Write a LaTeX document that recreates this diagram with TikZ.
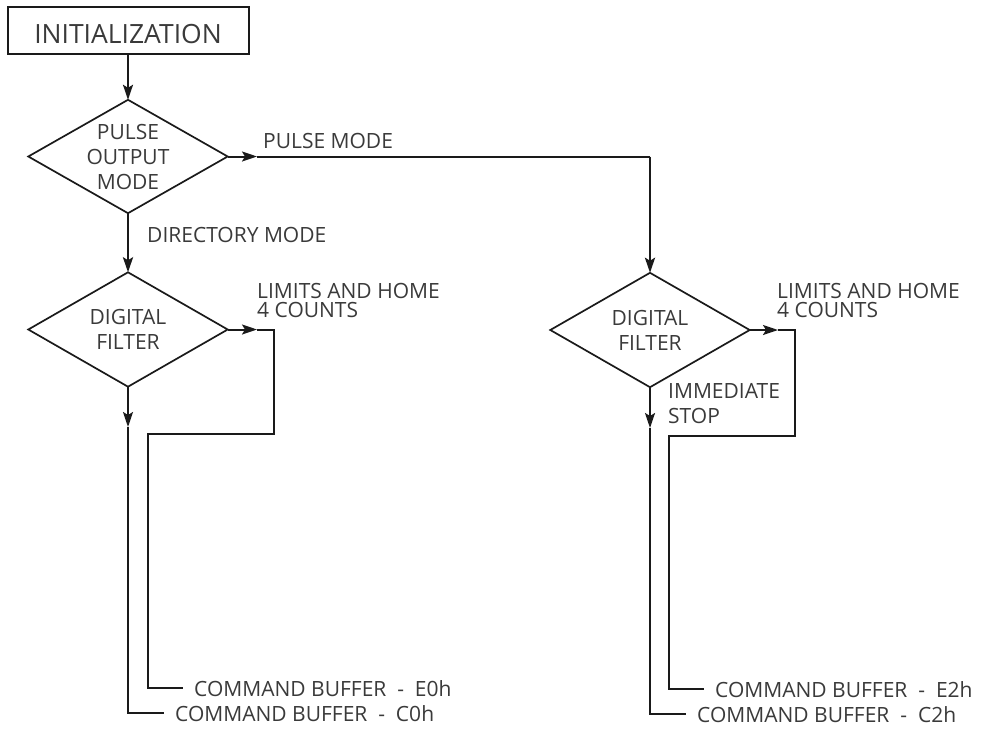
\documentclass[tikz,border=0pt]{standalone}
\usepackage{fontspec}
\setmainfont{Open Sans}
\usetikzlibrary{arrows.meta}
\definecolor{ink}{HTML}{1A1A1A}
\definecolor{txt}{HTML}{3A3A3A}
\begin{document}
\begin{tikzpicture}[x=1pt,y=-1pt,
  every node/.style={inner sep=0pt, text=txt},
  conn/.style={draw=ink, line width=2pt},
  heavy/.style={draw=ink, line width=2.7pt},
  arr/.style={-{Stealth[length=15pt,width=10pt,inset=3pt]}},
  lbl/.style={font=\fontsize{21}{19}\selectfont, align=left, anchor=north west},
  dtext/.style={font=\fontsize{21}{25}\selectfont, align=center, minimum width=199pt, minimum height=114pt},
  dline/.style={draw=ink, line width=1.7pt, line join=miter},
  cmd/.style={font=\fontsize{21}{25}\selectfont, anchor=base west, inner xsep=11pt}]
\useasboundingbox (0,0) rectangle (984,734);

% start box
\node[draw=ink, line width=2pt, minimum width=241pt, minimum height=47pt,
      font=\fontsize{26.5}{30}\selectfont, text height=26pt, text depth=0pt] (init) at (128,30.5) {INITIALIZATION};

% decision nodes
\node[dtext, minimum height=113pt] (d1) at (128,156.5) {PULSE\\OUTPUT\\MODE};
\node[dtext] (d2) at (128,329.5) {DIGITAL\\FILTER};
\node[dtext] (d3) at (650,330) {DIGITAL\\FILTER};
\foreach \d in {d1,d2,d3}{
  \draw[dline] (\d.north) -- (\d.east) -- (\d.south) -- (\d.west) -- cycle;
}

% end labels
\node[cmd] (e0) at (183,696) {COMMAND BUFFER\ \ -\ \ E0h};
\node[cmd] (c0) at (164,721) {COMMAND BUFFER\ \ -\ \ C0h};
\node[cmd] (e2) at (704,697) {COMMAND BUFFER\ \ -\ \ E2h};
\node[cmd] (c2) at (686,722) {COMMAND BUFFER\ \ -\ \ C2h};

% text labels
\node[lbl, anchor=base west] (lpm) at (263,148) {PULSE MODE};
\node[lbl, anchor=base west] (ldm) at (147,242) {DIRECTORY MODE};
\node[lbl] (llh) at (257,283) {LIMITS AND HOME\\4 COUNTS};
\node[lbl] (rlh) at (777,283) {LIMITS AND HOME\\4 COUNTS};
\node[lbl, font=\fontsize{21}{25}\selectfont] (ims) at (668,383) {IMMEDIATE\\STOP};

% connectors
\draw[conn,arr] (init.south) -- (d1.north);

\coordinate (p1) at (257,156.5);
\coordinate (p2) at (650,156.5);
\draw[conn,arr] (d1.east) -- (p1);
\draw[conn] (p1) -- (p2);
\draw[heavy,arr] (p2) -- (d3.north);

\draw[heavy,arr] (d1.south) -- (d2.north);

% left filter
\coordinate (q1) at (257,329.5);
\draw[conn,arr] (d2.east) -- (q1);
\draw[conn] (q1) -- (274,329.5) -- (274,434) -- (148,434) |- (e0.west);
\coordinate (q2) at (128,427);
\draw[conn,arr] (d2.south) -- (q2);
\draw[conn] (q2) |- (c0.west);

% right filter
\coordinate (r1) at (778,330);
\draw[conn,arr] (d3.east) -- (r1);
\draw[conn] (r1) -- (795,330) -- (795,436) -- (669,436) |- (e2.west);
\coordinate (r2) at (650,428);
\draw[conn,arr] (d3.south) -- (r2);
\draw[conn] (r2) |- (c2.west);
\end{tikzpicture}
\end{document}
